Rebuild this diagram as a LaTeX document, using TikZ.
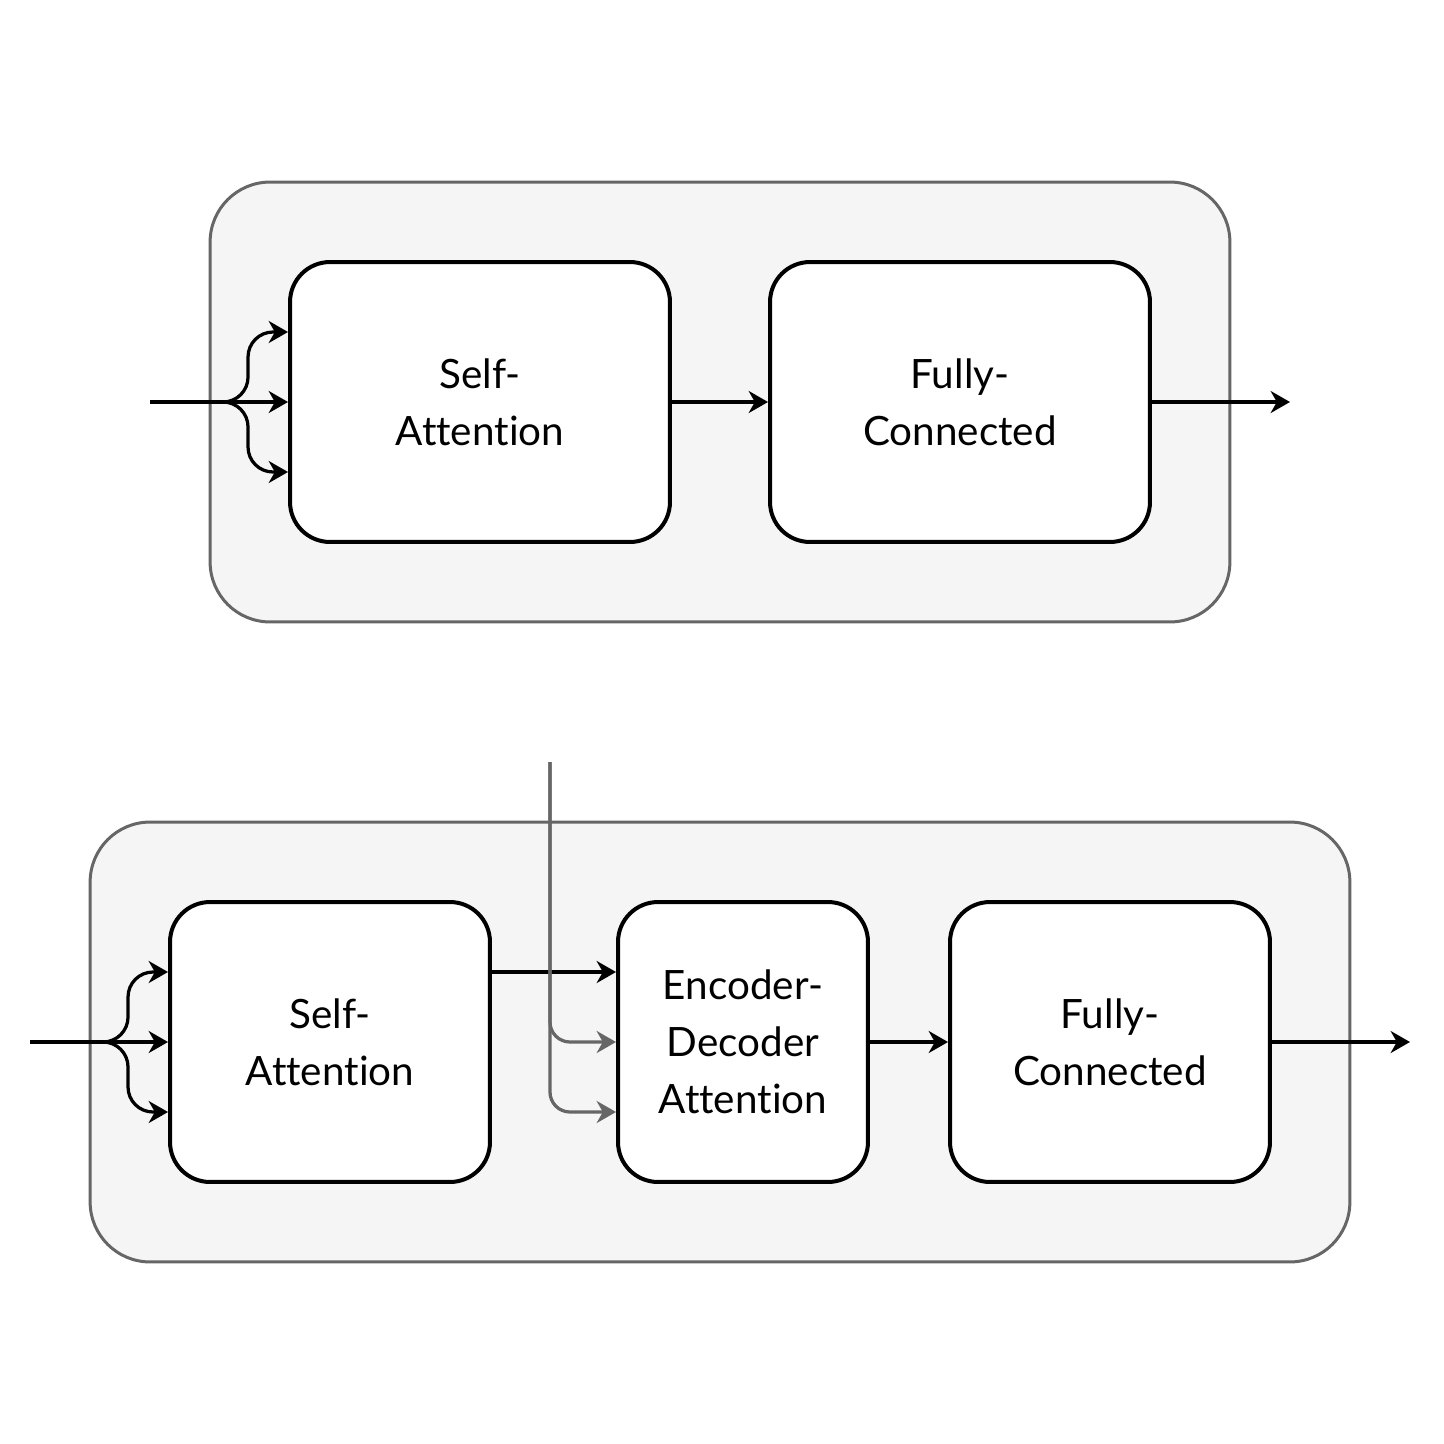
\documentclass[tikz,border=0pt]{standalone}
\usepackage{fontspec}
\setmainfont{Lato}[Ligatures=NoCommon]
\usetikzlibrary{
  positioning,
  arrows.meta,
  calc
}
\definecolor{panel}{HTML}{F5F5F5}
\definecolor{rim}{HTML}{666666}

\begin{document}
\begin{tikzpicture}[
  x=0.02cm, y=-0.02cm,
  layer/.style={draw=rim, fill=panel, line width=0.06cm, rounded corners=1.2cm,
                inner sep=0pt, minimum height=8.8cm},
  block/.style={draw, fill=white, line width=0.08cm, rounded corners=0.8cm, inner sep=0pt,
                minimum height=5.6cm, align=center, font=\fontsize{23}{32.4}\selectfont},
  link/.style={line width=0.065cm, -{Stealth[length=11pt, width=12.5pt, inset=3.5pt]}},
  feed/.style={link, draw=rim}
]
  \useasboundingbox (0,0) rectangle (1444,1444);

  % Encoder layer
  \node[layer, minimum width=20.4cm] (enc) at (720,402) {};
  \node[block, minimum width=7.6cm] (sa1) at (480,402) {Self-\\Attention};
  \node[block, minimum width=7.6cm] (fc1) at (960,402) {Fully-\\Connected};
  \coordinate (in1) at (150,402);
  \coordinate (out1) at (1290,402);

  % Decoder layer
  \node[layer, minimum width=25.2cm] (dec) at (720,1042) {};
  \node[block, minimum width=6.4cm] (sa2) at (330,1042) {Self-\\Attention};
  \node[block, minimum width=5cm] (eda) at (743,1042) {Encoder-\\Decoder\\Attention};
  \node[block, minimum width=6.4cm] (fc2) at (1110,1042) {Fully-\\Connected};
  \coordinate (in2) at (30,1042);
  \coordinate (out2) at (1410,1042);
  \coordinate (mem) at (550,762);

  % Inputs split into three
  \foreach \n in {1,2} {
    \draw[link] (in\n) -- (sa\n.west);
    \foreach \d in {-70,70}
      \draw[link, rounded corners=0.5cm] (in\n) -- ($(sa\n.west)+(-40,0)$)
        -- ($(sa\n.west)+(-40,\d)$) -- ($(sa\n.west)+(0,\d)$);
  }

  % Flow
  \draw[link] (sa1.east) -- (fc1.west);
  \draw[link] (fc1.east) -- (out1);
  \draw[link] ($(sa2.east)+(0,-70)$) -- ($(eda.west)+(0,-70)$);
  \draw[link] (eda.east) -- (fc2.west);
  \draw[link] (fc2.east) -- (out2);

  % Encoder output
  \draw[feed, rounded corners=0.4cm] (mem) |- (eda.west);
  \draw[feed, rounded corners=0.4cm] (mem) |- ($(eda.west)+(0,70)$);
\end{tikzpicture}
\end{document}
